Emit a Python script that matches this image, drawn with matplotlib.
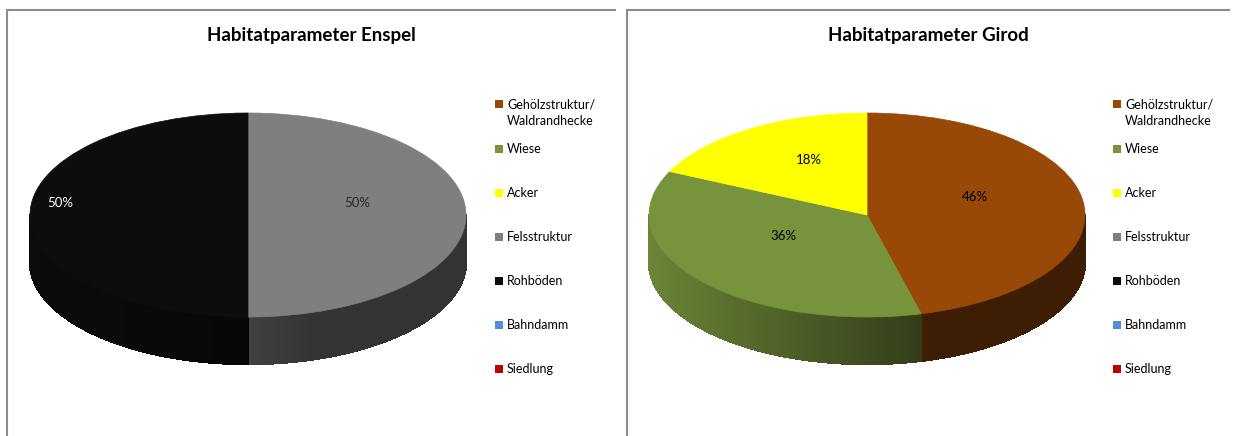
import numpy as np
import matplotlib
matplotlib.use('Agg')
import matplotlib.pyplot as plt
import matplotlib.transforms as mtransforms
from matplotlib.patches import Wedge, Rectangle
from matplotlib.collections import PolyCollection
from matplotlib.lines import Line2D
from matplotlib.colors import to_rgb

# data
categories = ['Gehölzstruktur/\nWaldrandhecke', 'Wiese', 'Acker', 'Felsstruktur',
              'Rohböden', 'Bahndamm', 'Siedlung']
colors = ['#984807', '#77933C', '#FFFF00', '#7F7F7F', '#0D0D0D', '#558ED5', '#C00000']
titles = ['Habitatparameter Enspel', 'Habitatparameter Girod']
values_enspel = [0, 0, 0, 50, 50, 0, 0]
values_girod = [46, 36, 18, 0, 0, 0, 0]
label_colors_enspel = ['#000000', '#000000', '#000000', '#262626', '#FFFFFF', '#000000', '#000000']
label_colors_girod = ['#000000'] * 7

# layout (pixels of the 1233x436 picture)
W, H = 1233, 436
plt.rcParams['font.family'] = ['Lato', 'DejaVu Sans']


def fx(x):
    return x / W


def fy(y):
    return 1 - y / H


def shade(u):
    # Excel-like lighting of the pie wall: lighter on the left, darker on the right
    return 0.4 + 0.5 * np.clip((0.3 - u) / 1.3, 0, 1)


def draw_pie(fig, cx, top, bottom, a, b, values, label_cols, label_r):
    k = b / a
    d = (bottom - top - 2 * b) / a
    pad = 6
    ax = fig.add_axes([fx(cx - a - pad), fy(bottom + pad), (2 * a + 2 * pad) / W,
                       (bottom - top + 2 * pad) / H])
    ax.set_xlim(-1 - pad / a, 1 + pad / a)
    ax.set_ylim(-k - d - pad / a, k + pad / a)
    ax.axis('off')

    total = float(sum(values))
    fracs = np.array(values) / total
    starts = 90 - 360 * np.concatenate([[0], np.cumsum(fracs)[:-1]])
    ends = starts - 360 * fracs

    # side wall (front half only)
    polys, fcs = [], []
    for i, f in enumerate(fracs):
        if f == 0:
            continue
        ts = np.linspace(ends[i], starts[i], max(int(abs(starts[i] - ends[i]) * 2), 2) + 1)
        base = np.array(to_rgb(colors[i]))
        for t1, t2 in zip(ts[:-1], ts[1:]):
            tm = np.radians((t1 + t2) / 2)
            if np.sin(tm) >= 0:
                continue
            r1, r2 = np.radians(t1), np.radians(t2)
            p1 = (np.cos(r1), k * np.sin(r1))
            p2 = (np.cos(r2), k * np.sin(r2))
            polys.append([p1, p2, (p2[0], p2[1] - d), (p1[0], p1[1] - d)])
            fcs.append(base * shade(np.cos(tm)))
    ax.add_collection(PolyCollection(polys, facecolors=fcs, edgecolors=fcs, linewidths=1.0,
                                     antialiased=False))

    # top surface
    squash = mtransforms.Affine2D().scale(1, k) + ax.transData
    for i, f in enumerate(fracs):
        if f == 0:
            continue
        w = Wedge((0, 0), 1, ends[i], starts[i], facecolor=colors[i], edgecolor=colors[i],
                  linewidth=0.5, transform=squash)
        ax.add_patch(w)

    # percentage labels
    j = 0
    for i, f in enumerate(fracs):
        if f == 0:
            continue
        mid = np.radians((starts[i] + ends[i]) / 2)
        r = label_r[j]
        j += 1
        ax.text(r * np.cos(mid), k * r * np.sin(mid) + 0.055, f'{values[i] / total * 100:.0f}%',
                ha='center', va='center', fontsize=9.5, color=label_cols[i])
    return ax


fig = plt.figure(figsize=(W / 100, H / 100), dpi=100)
fig.patch.set_facecolor('white')

# panel frames
for x0, x1 in [(7, 615), (627, 1229)]:
    fig.add_artist(Line2D([fx(x0), fx(x0)], [fy(10), fy(H + 5)], color='#8C8C8C', lw=1.5))
    fig.add_artist(Line2D([fx(x0), fx(x1)], [fy(10), fy(10)], color='#8C8C8C', lw=1.5))

panels = [
    (248, 311, 495, values_enspel, label_colors_enspel, [0.5, 0.86]),
    (867, 928, 1113, values_girod, label_colors_girod, [0.5, 0.5, 0.5]),
]
for p, (cx, tx, lx, vals, lcols, lr) in enumerate(panels):
    fig.text(fx(tx), fy(36), titles[p], ha='center', va='center', fontsize=13.5,
             fontweight='bold', color='#000000')
    draw_pie(fig, cx, 113, 364, 218, 102, vals, lcols, lr)

    # legend
    for i, name in enumerate(categories):
        y = 104 if i == 0 else 149 + 44 * (i - 1)
        fig.add_artist(Rectangle((fx(lx), fy(y + 4)), 8 / W, 8 / H, transform=fig.transFigure,
                                 facecolor=colors[i], edgecolor='none'))
        ty = 113 if i == 0 else y
        fig.text(fx(lx + 12), fy(ty), name, ha='left', va='center', fontsize=9,
                 color='#000000', linespacing=1.45)

fig.savefig('out.png', dpi=100, facecolor='white')
